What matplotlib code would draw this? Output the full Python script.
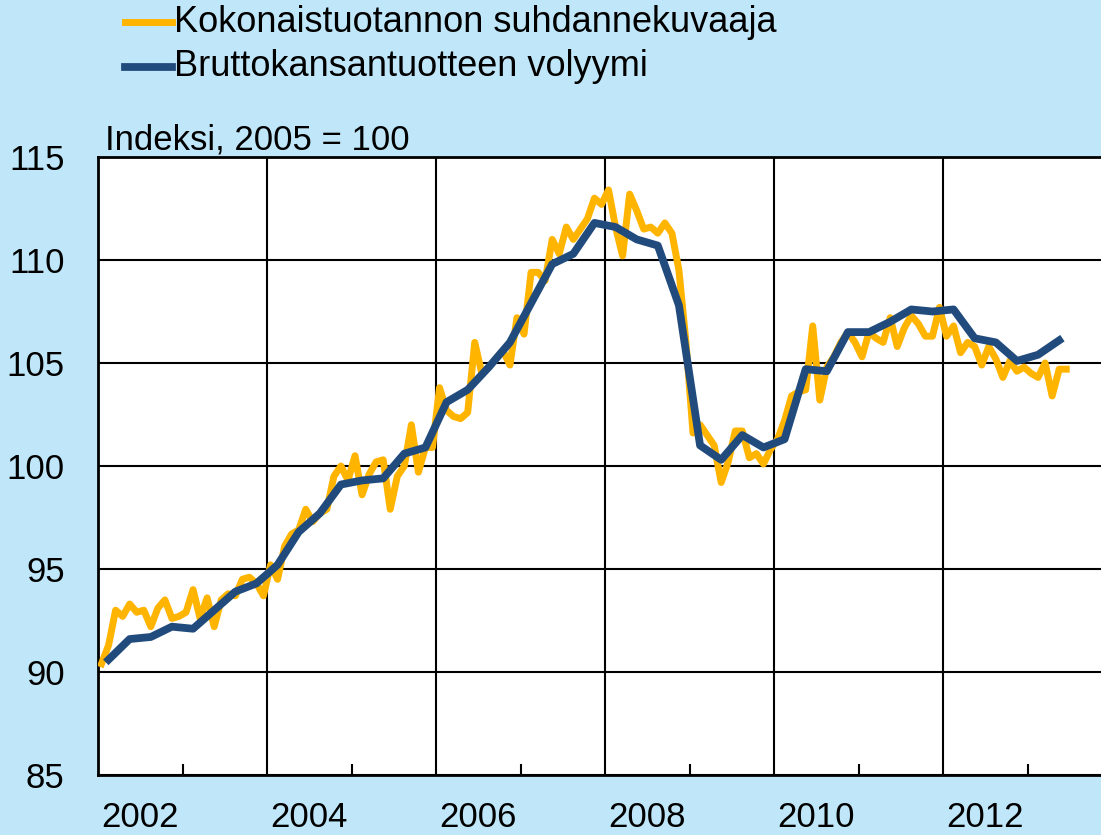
from matplotlib import pyplot as plt
from matplotlib.lines import Line2D
import numpy as np

TITLE = 'Indeksi, 2005 = 100'
YELLOW_LABEL = 'Kokonaistuotannon suhdannekuvaaja'
BLUE_LABEL = 'Bruttokansantuotteen volyymi'
YELLOW = '#FFB400'
BLUE = '#224B7D'
BG = '#BFE7F9'

# monthly index, Jan 2002 - Jun 2013
monthly = [
    90.4, 91.3, 93.0, 92.7, 93.3, 92.9, 93.0, 92.2, 93.1, 93.5, 92.6, 92.7,
    92.9, 94.0, 92.6, 93.6, 92.2, 93.5, 93.8, 93.7, 94.5, 94.6, 94.3, 93.7,
    95.2, 94.5, 96.1, 96.7, 96.9, 97.9, 97.3, 97.7, 97.9, 99.5, 100.0, 99.3,
    100.5, 98.6, 99.6, 100.2, 100.3, 97.9, 99.5, 100.0, 102.0, 99.7, 100.9, 100.9,
    103.8, 102.7, 102.4, 102.3, 102.6, 106.0, 104.5, 104.8, 105.2, 105.6, 104.9, 107.2,
    106.4, 109.4, 109.4, 109.0, 111.0, 110.3, 111.6, 111.0, 111.5, 112.0, 113.0, 112.7,
    113.4, 111.6, 110.2, 113.2, 112.4, 111.5, 111.6, 111.3, 111.8, 111.3, 109.5, 106.0,
    101.6, 102.0, 101.5, 101.0, 99.2, 100.2, 101.7, 101.7, 100.4, 100.6, 100.1, 100.8,
    101.3, 102.2, 103.4, 103.6, 103.7, 106.8, 103.2, 104.8, 105.3, 106.0, 106.5, 106.0,
    105.3, 106.5, 106.2, 106.0, 107.2, 105.8, 106.7, 107.3, 106.9, 106.3, 106.3, 107.7,
    106.3, 106.8, 105.5, 106.0, 105.8, 104.9, 105.8, 105.2, 104.3, 105.1, 104.6, 104.8,
    104.5, 104.3, 105.0, 103.4, 104.7, 104.7,
]

# quarterly GDP volume, Q1 2002 - Q2 2013
quarterly = [
    90.6, 91.6, 91.7, 92.2,
    92.1, 93.0, 93.9, 94.3,
    95.2, 96.8, 97.7, 99.1,
    99.3, 99.4, 100.6, 100.9,
    103.1, 103.7, 104.8, 106.0,
    107.9, 109.8, 110.3, 111.8,
    111.6, 111.0, 110.7, 107.8,
    101.0, 100.3, 101.5, 100.9,
    101.3, 104.7, 104.6, 106.5,
    106.5, 107.0, 107.6, 107.5,
    107.6, 106.2, 106.0, 105.1,
    105.4, 106.1,
]

YEARS = [2002, 2004, 2006, 2008, 2010, 2012]

x_month = 2002 + (np.arange(len(monthly)) + 0.5) / 12
x_quarter = 2002 + (np.arange(len(quarterly)) + 0.5) / 4

plt.rcParams['font.family'] = ['Liberation Sans', 'DejaVu Sans']

W, H = 1101, 835
fig = plt.figure(figsize=(W / 100, H / 100), dpi=100, facecolor=BG)
ax = fig.add_axes([98 / W, 1 - 775 / H, 1014 / W, 618 / H])
ax.set_facecolor('white')

ax.plot(x_month, monthly, color=YELLOW, linewidth=5.0, zorder=3)
ax.plot(x_quarter, quarterly, color=BLUE, linewidth=5.6, zorder=4)

ax.set_xlim(2002, 2014)
ax.set_ylim(85, 115)
ax.set_yticks(np.arange(85, 116, 5))
ax.set_xticks(YEARS)
ax.set_xticklabels([])
ax.set_xticks(np.arange(2003, 2014, 2), minor=True)
ax.tick_params(axis='x', which='major', length=0)
ax.tick_params(axis='x', which='minor', direction='in', length=8, width=1.5, color='black')
ax.tick_params(axis='y', length=0, pad=24, labelsize=25)
ax.grid(True, which='major', color='black', linewidth=1.5)
ax.set_axisbelow(True)

for y in YEARS:
    ax.text(y + 0.5, -0.042, str(y), transform=ax.get_xaxis_transform(),
            ha='center', va='top', fontsize=25)

for side in ['left', 'bottom', 'top']:
    ax.spines[side].set_linewidth(2)
    ax.spines[side].set_color('black')
ax.spines['right'].set_visible(False)

fig.text(105 / W, 1 - 149 / H, TITLE, fontsize=25, ha='left', va='baseline')

# legend, drawn by hand
for label, color, lw, ypix in [(YELLOW_LABEL, YELLOW, 5.0, 22), (BLUE_LABEL, BLUE, 5.6, 67)]:
    fig.add_artist(Line2D([125 / W, 172 / W], [1 - ypix / H] * 2, color=color,
                          linewidth=lw, transform=fig.transFigure))
    fig.text(174 / W, 1 - ypix / H, label, fontsize=26, ha='left', va='center')

fig.savefig('out.png', dpi=100, facecolor=BG)
